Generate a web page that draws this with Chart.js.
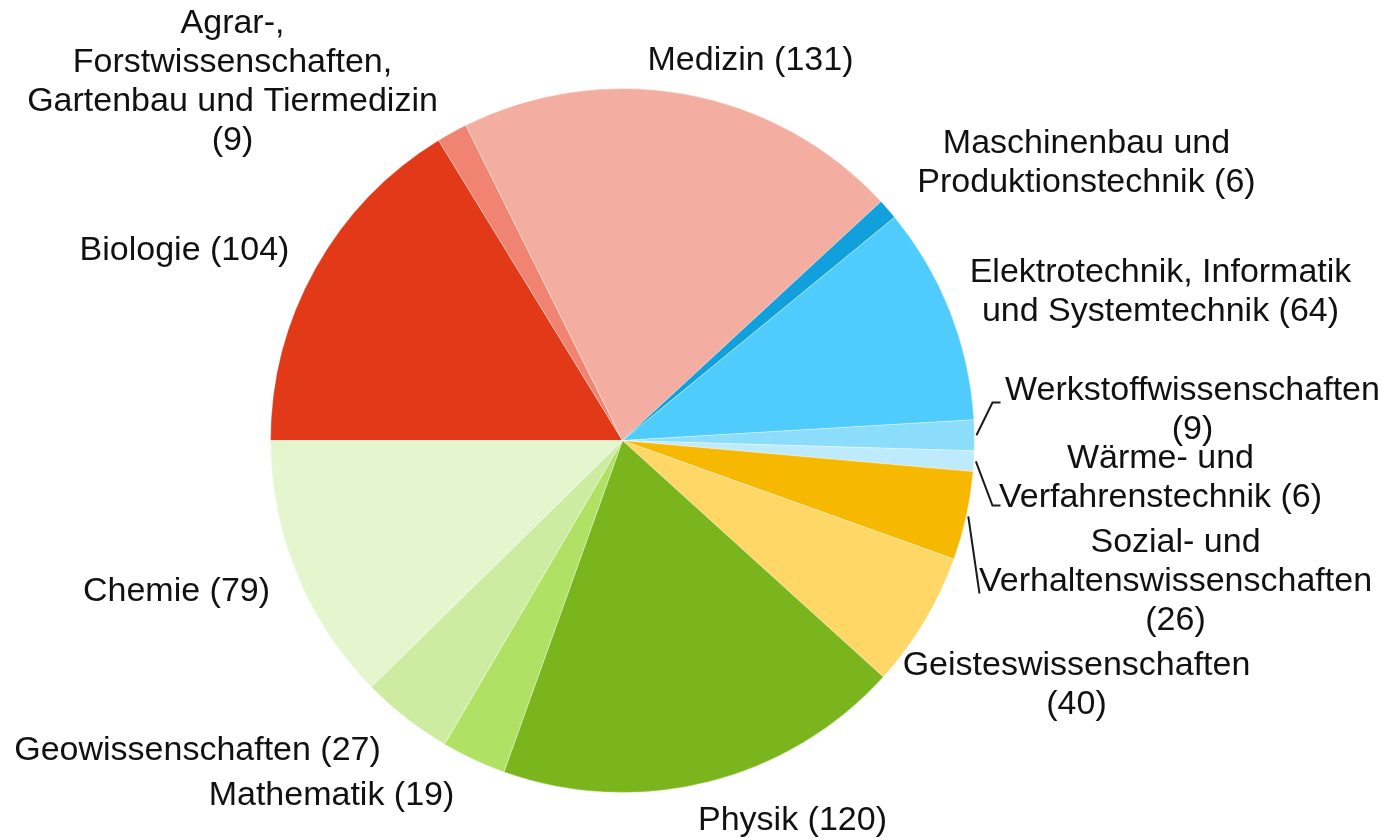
<!DOCTYPE html>
<html>
<head>
<meta charset="utf-8">
<script src="https://cdn.jsdelivr.net/npm/chart.js@4.4.1/dist/chart.umd.min.js"></script>
<style>
  html,body{ margin:0; padding:0; background:#fff; }
  #wrap{ width:1388px; height:838px; position:relative; }
</style>
</head>
<body>
<div id="wrap"><canvas id="pie"></canvas></div>
<script>
// 扇區資料（依順時針，從 9 點鐘方向開始）
const categories = [
  'Biologie',
  'Agrar-, Forstwissenschaften, Gartenbau und Tiermedizin',
  'Medizin',
  'Maschinenbau und Produktionstechnik',
  'Elektrotechnik, Informatik und Systemtechnik',
  'Werkstoffwissenschaften',
  'Wärme- und Verfahrenstechnik',
  'Sozial- und Verhaltenswissenschaften',
  'Geisteswissenschaften',
  'Physik',
  'Mathematik',
  'Geowissenschaften',
  'Chemie'
];
const values = [104, 9, 131, 6, 64, 9, 6, 26, 40, 120, 19, 27, 79];

// 標籤文字（換行後）
const labelLines = [
  ['Biologie (104)'],
  ['Agrar-,', 'Forstwissenschaften,', 'Gartenbau und Tiermedizin', '(9)'],
  ['Medizin (131)'],
  ['Maschinenbau und', 'Produktionstechnik (6)'],
  ['Elektrotechnik, Informatik', 'und Systemtechnik (64)'],
  ['Werkstoffwissenschaften', '(9)'],
  ['Wärme- und', 'Verfahrenstechnik (6)'],
  ['Sozial- und', 'Verhaltenswissenschaften', '(26)'],
  ['Geisteswissenschaften', '(40)'],
  ['Physik (120)'],
  ['Mathematik (19)'],
  ['Geowissenschaften (27)'],
  ['Chemie (79)']
];

const colors = [
  '#E23A18', '#F08371', '#F4AEA1', '#11A0DC', '#4FCCFC', '#8CDDFB', '#BDEBFC',
  '#F7B801', '#FED767', '#7AB51E', '#B0E164', '#CEECA1', '#E5F6CF'
];

// 標籤第一行中心相對圓心的位移（px）
const labelPos = [
  [-438, -190], [-390, -417], [128, -380], [464, -297], [538, -168],
  [570, -50], [538, 18], [553, 102], [454, 225], [170, 380],
  [-291, 355], [-425, 310], [-446, 151]
];

// 引導線：[彎折點, 終點]（相對圓心，px）
const leaders = {
  5: [[370, -38], [378, -38]],
  6: [[370, 65], [378, 65]],
  7: [[357, 153], null]
};

const FONT = '34px "Liberation Sans", Arial, sans-serif';
const LINE_H = 39;

const labelPlugin = {
  id: 'outLabels',
  afterDraw(chart){
    const ctx = chart.ctx;
    const arcs = chart.getDatasetMeta(0).data;
    ctx.save();
    // 引導線
    ctx.strokeStyle = '#1a1a1a';
    ctx.lineWidth = 2;
    for(const k of Object.keys(leaders)){
      const a = arcs[k], [elb, end] = leaders[k];
      const mid = (a.startAngle + a.endAngle) / 2;
      const r = a.outerRadius + 2;
      ctx.beginPath();
      ctx.moveTo(a.x + r*Math.cos(mid), a.y + r*Math.sin(mid));
      ctx.lineTo(a.x + elb[0], a.y + elb[1]);
      if(end) ctx.lineTo(a.x + end[0], a.y + end[1]);
      ctx.stroke();
    }
    // 文字
    ctx.fillStyle = '#111';
    ctx.font = FONT;
    ctx.textAlign = 'center';
    ctx.textBaseline = 'middle';
    arcs.forEach((a, i) => {
      const [dx, dy] = labelPos[i];
      labelLines[i].forEach((t, j) => ctx.fillText(t, a.x + dx, a.y + dy + j*LINE_H));
    });
    ctx.restore();
  }
};

new Chart(document.getElementById('pie'), {
  type: 'pie',
  data: {
    labels: categories,
    datasets: [{ data: values, backgroundColor: colors, borderWidth: 1, borderColor: 'rgba(255,255,255,0.35)' }]
  },
  options: {
    responsive: true, maintainAspectRatio: false, animation: false,
    rotation: 270,
    layout: { padding: { left: 270, right: 413, top: 88, bottom: 45 } },
    plugins: { legend: { display: false }, tooltip: { enabled: false } }
  },
  plugins: [labelPlugin]
});
</script>
</body>
</html>
